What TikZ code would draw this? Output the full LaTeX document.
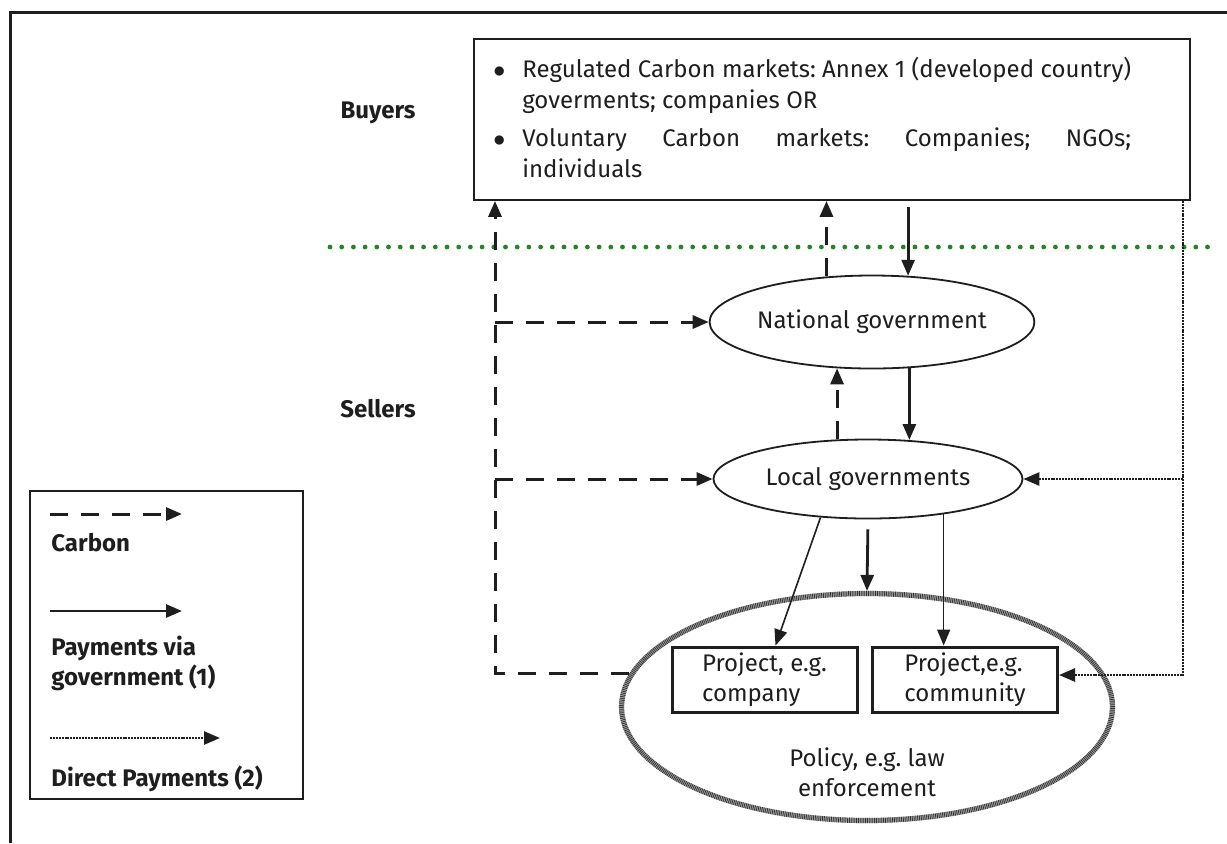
\documentclass[tikz,border=0pt]{standalone}
\usepackage{fontspec}
\setmainfont{Fira Sans}
\usetikzlibrary{arrows.meta,shapes.geometric,calc}
\definecolor{ink}{RGB}{30,30,30}
\definecolor{divgreen}{RGB}{40,130,40}
\newlength\firstw
\frenchspacing
\begin{document}
\begin{tikzpicture}[x=0.5pt,y=-0.5pt,
  >={Triangle[length=8pt,width=6.5pt]},
  every node/.style={text=ink, font=\fontsize{12}{15}\selectfont},
  outerframe/.style={draw=ink, line width=1.5pt},
  carbonln/.style={draw=ink, line width=1.5pt, dash pattern=on 9pt off 6.5pt},
  payln/.style={draw=ink, line width=1.4pt},
  thinln/.style={draw=ink, line width=0.8pt},
  directln/.style={draw=ink, line width=1.3pt, dash pattern=on 1pt off 0.45pt},
  govell/.style={ellipse, draw=ink, line width=0.9pt, inner sep=0pt},
  projbox/.style={draw=ink, line width=1.5pt, minimum width=92.5pt, minimum height=32.5pt, align=left, inner sep=0pt},
  lbl/.style={font=\fontsize{12}{15}\selectfont\bfseries},
  greendiv/.style={draw=divgreen, line width=2.4pt, dash pattern=on 0pt off 5.85pt, line cap=round}
]
\useasboundingbox (0,0) rectangle (1227,843);
\fill[white] (0,0) rectangle (1227,843);

% outer frame
\coordinate (frTR) at (1227,12);
\coordinate (frTL) at (10,12);
\coordinate (frBL) at (10,843);
\draw[outerframe] (frTR) -- (frTL) -- (frBL);

% divider
\coordinate (g1) at (330,247);
\coordinate (g2) at (1212,247);
\draw[greendiv] (g1) -- (g2);

% side labels
\node[lbl] (buyl) at (378,113) {Buyers};
\node[lbl] (selll) at (378,409) {Sellers};

% buyers box
\node[draw=ink, line width=0.9pt, minimum width=358pt, minimum height=80.5pt, inner sep=0pt] (buyers) at (832,119.5) {};
\node[anchor=north west, inner sep=0pt, font=\fontsize{12}{15.5}\selectfont] (buytext) at (493,55) {%
  \settowidth{\firstw}{Regulated Carbon markets: Annex 1 (developed country)}%
  \begin{tabular}{@{}p{14.5pt}@{}l@{}}
  $\bullet$ & Regulated Carbon markets: Annex 1 (developed country)\\
   & goverments; companies OR\\[3.5pt]
  $\bullet$ & \makebox[\firstw][s]{Voluntary Carbon markets: Companies; NGOs;}\\
   & individuals
  \end{tabular}};

% governments
\node[govell, minimum width=145.5pt, minimum height=46.5pt] (natl) at (872,322) {National government};
\node[govell, minimum width=154.5pt, minimum height=39.5pt] (local) at (868,479) {Local governments};

% policy ellipse (hatched border)
\node[ellipse, minimum width=245.5pt, minimum height=113.5pt, inner sep=0pt, draw=black!35, line width=2.6pt] (policy) at (867,707) {};
\node[ellipse, minimum width=245.5pt, minimum height=113.5pt, inner sep=0pt, draw=black!80, line width=2.6pt, dash pattern=on 0.4pt off 0.5pt] (policyhatch) at (policy.center) {};

% projects
\node[projbox] (company) at (764.5,679.5) {Project, e.g.\\company};
\node[projbox] (comm) at (965,679.5) {Project,e.g.\\community};
\node[align=center] (policytxt) at (867,772) {Policy, e.g. law\\enforcement};

% carbon flows
\coordinate (cx) at (495,675);
\draw[carbonln,->] (policy.172) -- (policy.172 -| cx) -- (cx |- buyers.south);
\draw[carbonln,->] (cx |- natl.west) -- (natl.west);
\draw[carbonln,->] (cx |- local.west) -- (local.west);
\draw[carbonln,->] (natl.135) -- (natl.135 |- buyers.south);
\draw[carbonln,->] (local.128) -- (local.128 |- natl.233);

% payments via government
\draw[payln,->,shorten <=3pt] (natl.52 |- buyers.south) -- (natl.52);
\draw[payln,->] (natl.-51) -- (natl.-51 |- local.44);
\draw[payln,->,shorten <=5pt] (local.south) -- (policy.north);
\draw[thinln,->] (local.219) -- ($(company.north)+(11,0)$);
\draw[thinln,->] (local.-25) -- (local.-25 |- comm.north);

% direct payments
\coordinate (dx) at (1183,675);
\draw[directln,->] (buyers.south -| dx) -- (dx) -- (dx -| comm.east);
\draw[directln,->] (dx |- local.east) -- (local.east);

% legend
\node[draw=ink, line width=0.7pt, minimum width=136.5pt, minimum height=154pt, inner sep=0pt] (legend) at (166.5,645) {};
\coordinate (lc1) at (50,514);
\coordinate (lc2) at (182,514);
\draw[carbonln,->] (lc1) -- (lc2);
\node[lbl, anchor=west, inner sep=0pt] (lcarbon) at (51,543) {Carbon};
\coordinate (lp1) at (50,611);
\coordinate (lp2) at (182,611);
\draw[payln,->] (lp1) -- (lp2);
\node[lbl, anchor=north west, align=left, inner sep=0pt] (lpay) at (51,636) {Payments via\\government (1)};
\coordinate (ld1) at (50,738);
\coordinate (ld2) at (220,738);
\draw[directln,->] (ld1) -- (ld2);
\node[lbl, anchor=west, inner sep=0pt] (ldirect) at (51,779) {Direct Payments (2)};
\end{tikzpicture}
\end{document}
